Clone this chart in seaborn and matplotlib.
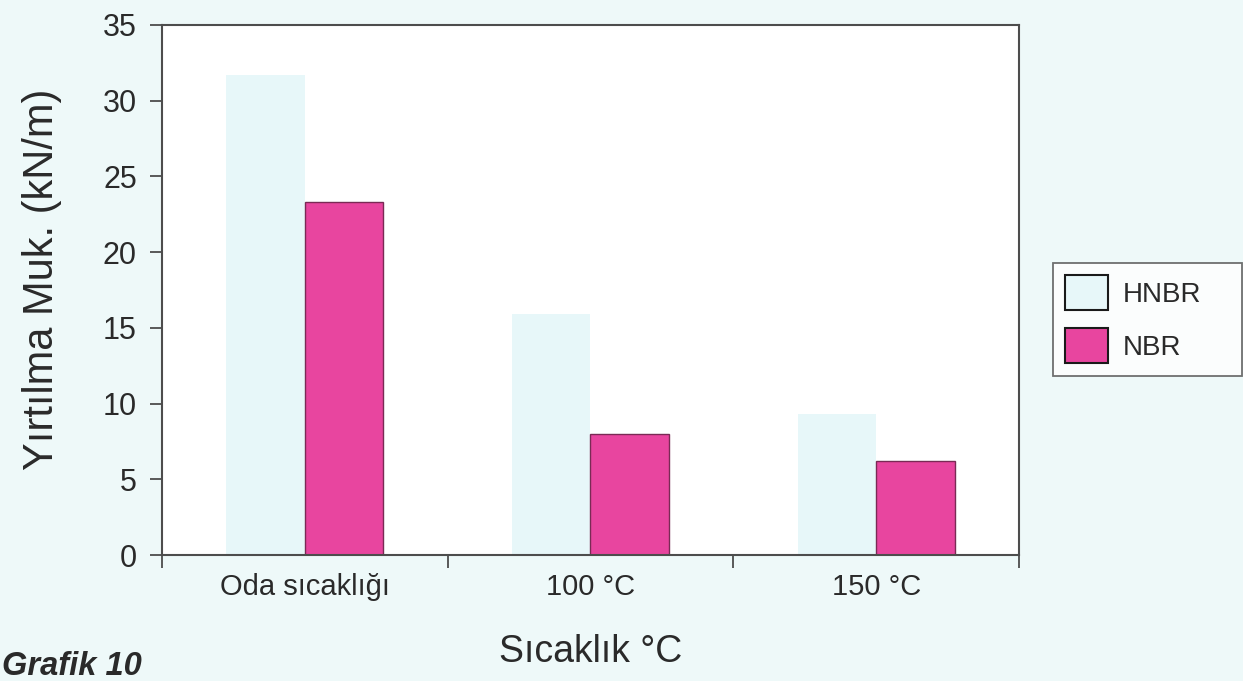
import matplotlib
matplotlib.use("Agg")
import matplotlib.pyplot as plt
from matplotlib.patches import Patch
from matplotlib.ticker import FixedLocator, NullFormatter
import seaborn as sns
import pandas as pd

# Tear strength by test temperature
categories = ["Oda sıcaklığı", "100 °C", "150 °C"]
hnbr_values = [31.7, 15.9, 9.3]
nbr_values = [23.3, 8.0, 6.2]
series_names = ["HNBR", "NBR"]
y_ticks = [0, 5, 10, 15, 20, 25, 30, 35]

df = pd.DataFrame({
    "Sıcaklık": categories * 2,
    "Değer": hnbr_values + nbr_values,
    "Malzeme": [series_names[0]] * len(categories) + [series_names[1]] * len(categories),
})

sns.set_theme(style="white")
fonts = ["Liberation Sans", "DejaVu Sans"]
plt.rcParams["font.family"] = fonts

bg = "#eef9f9"
hnbr_color = "#e7f7f9"
nbr_color = "#e8459f"
axis_color = "#4d4d4d"
text_color = "#2a2a2a"

fig = plt.figure(figsize=(12.43, 6.81), dpi=100, facecolor=bg)
ax = fig.add_axes([0.1303, 0.185, 0.6895, 0.7783])
ax.set_facecolor("white")

sns.barplot(data=df, x="Sıcaklık", y="Değer", hue="Malzeme",
            palette=[hnbr_color, nbr_color], width=0.55, ax=ax,
            legend=False, saturation=1)

for bar in ax.containers[0]:
    bar.set_edgecolor("none")
for bar in ax.containers[1]:
    bar.set_edgecolor("#7a2a55")
    bar.set_linewidth(1.0)

ax.set_xlim(-0.5, 2.5)
ax.set_ylim(0, 35)
ax.set_yticks(y_ticks)
ax.set_yticklabels([str(t) for t in y_ticks])

# Category boundaries carry the tick marks, centers carry the labels
ax.xaxis.set_major_locator(FixedLocator([-0.5, 0.5, 1.5, 2.5]))
ax.xaxis.set_major_formatter(NullFormatter())
ax.xaxis.set_minor_locator(FixedLocator([0, 1, 2]))
ax.set_xticklabels(categories, minor=True)
ax.tick_params(axis="x", which="major", direction="out", length=9, width=1.3,
               color=axis_color, bottom=True)
ax.tick_params(axis="x", which="minor", length=0, pad=13, labelsize=21,
               labelcolor=text_color, bottom=True)
ax.tick_params(axis="y", direction="out", length=9, width=1.3, color=axis_color,
               pad=9, labelsize=22, labelcolor=text_color, left=True)

for side in ["left", "right", "top", "bottom"]:
    ax.spines[side].set_visible(True)
    ax.spines[side].set_color(axis_color)
    ax.spines[side].set_linewidth(1.5)

ax.set_xlabel("Sıcaklık °C", fontsize=27, color=text_color, labelpad=24)
ax.set_ylabel("Yırtılma Muk. (kN/m)", fontsize=30, color=text_color)
ax.yaxis.set_label_coords(-0.117, 0.52)

handles = [Patch(facecolor=hnbr_color, edgecolor="#1a1a1a", linewidth=1.5),
           Patch(facecolor=nbr_color, edgecolor="#1a1a1a", linewidth=1.5)]
leg = ax.legend(handles, series_names, loc="upper left",
                bbox_to_anchor=(0.847, 0.0, 0.152, 0.614),
                bbox_transform=fig.transFigure, mode="expand",
                borderaxespad=0, fontsize=20, frameon=True, fancybox=False,
                handlelength=1.55, handleheight=1.55, handletextpad=0.5,
                labelspacing=0.65, borderpad=0.45)
leg.get_frame().set_edgecolor(axis_color)
leg.get_frame().set_linewidth(1.3)
leg.get_frame().set_facecolor("white")
for t in leg.get_texts():
    t.set_color(text_color)

fig.text(0.002, 1 - 675 / 681, "Grafik 10", fontsize=23.5, fontweight="bold",
         fontstyle="italic", color=text_color, ha="left", va="baseline",
         family=fonts)

fig.savefig("out.png", dpi=100, facecolor=bg)
